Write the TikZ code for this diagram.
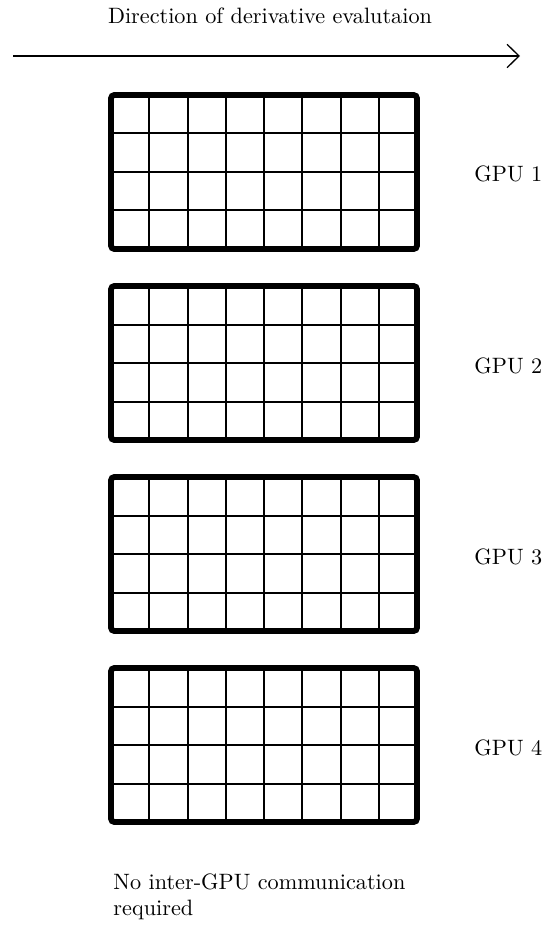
\documentclass[tikz,border=0pt]{standalone}
\usetikzlibrary{arrows.meta,calc}
\begin{document}
\begin{tikzpicture}[x=0.45pt,y=-0.45pt,
  gpubox/.style={draw=black, line width=2.6pt, rounded corners=1.5pt,
    minimum width=137.7pt, minimum height=69.3pt, inner sep=0pt, outer sep=0pt},
  cellline/.style={line width=0.9pt, black},
  lbl/.style={anchor=base west, inner sep=0pt},
  dirarrow/.style={line width=0.6pt,
    -{Straight Barb[length=5.4pt,width=10.5pt,line width=0.6pt]}}]
\useasboundingbox (0,0) rectangle (547,925);
\node[anchor=base, inner sep=0pt] (title) at (270,24) {Direction of derivative evalutaion};
\coordinate (as) at (13,56);
\coordinate (ae) at (520,56);
\draw[dirarrow] (as) -- (ae);
\foreach \k/\yc in {1/172,2/363,3/554,4/745} {
  \node[gpubox] (g\k) at (264,\yc) {};
  \foreach \i in {1,...,7}
    \draw[cellline] ($(g\k.north west)!\i/8!(g\k.north east)$) -- ($(g\k.south west)!\i/8!(g\k.south east)$);
  \foreach \j in {1,2,3}
    \draw[cellline] ($(g\k.north west)!\j/4!(g\k.south west)$) -- ($(g\k.north east)!\j/4!(g\k.south east)$);
  \node[lbl] (l\k) at (474,\yc+10) {GPU \k};
}
\node[anchor=north west, inner sep=0pt, align=left] (note) at (113,873) {No inter-GPU communication\\required};
\end{tikzpicture}
\end{document}
